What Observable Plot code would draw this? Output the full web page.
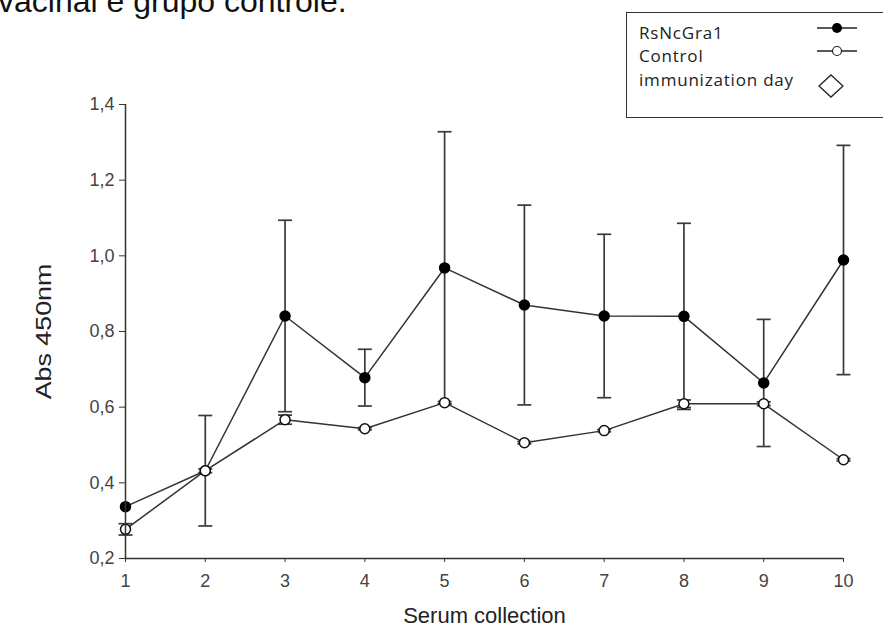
<!DOCTYPE html>
<html>
<head>
<meta charset="utf-8">
<script src="https://cdn.jsdelivr.net/npm/d3@7"></script>
<script src="https://cdn.jsdelivr.net/npm/@observablehq/plot@0.6"></script>
<style>
  html, body { margin: 0; padding: 0; background: #fff; }
  body { width: 883px; height: 630px; position: relative; overflow: hidden; }
  #chart { position: absolute; left: 0; top: 0; }
  #chart svg g[aria-label$="tick label"] { font-size: 18px !important; font-family: "Liberation Sans Narrow", "Liberation Sans", Arial, sans-serif !important; }
  #toptext { position: absolute; left: -2px; top: -15px; font-family: "Liberation Sans", Arial, sans-serif; font-size: 32px; line-height: 32px; color: #111; white-space: nowrap; }
  #legend { position: absolute; left: 626px; top: 12px; width: 280px; height: 104px; border: 1px solid #333; background: #fff; font-family: "Open Sans", "Noto Sans", sans-serif; font-size: 17px; letter-spacing: 0.8px; color: #222; }
  #legend .row { position: absolute; left: 12px; white-space: nowrap; line-height: 23px; }
  #legend svg { position: absolute; left: 0; top: 0; }
</style>
</head>
<body>
<div id="toptext">vacinal e grupo controle.</div>
<div id="chart"></div>
<div id="legend"></div>
<script>
// ---- data ----
const collection = [1, 2, 3, 4, 5, 6, 7, 8, 9, 10];
const rsMean   = [0.337, 0.432, 0.841, 0.678, 0.968, 0.870, 0.841, 0.840, 0.664, 0.989];
const rsErr    = [0.000, 0.146, 0.253, 0.075, 0.360, 0.264, 0.216, 0.246, 0.168, 0.303];
const ctrlMean = [0.277, 0.432, 0.567, 0.543, 0.612, 0.506, 0.538, 0.609, 0.609, 0.461];
const ctrlErr  = [0.015, 0.005, 0.012, 0.003, 0.003, 0.003, 0.003, 0.010, 0.005, 0.003];
const yTicks   = [0.2, 0.4, 0.6, 0.8, 1.0, 1.2, 1.4];
const seriesNames = ["RsNcGra1", "Control", "immunization day"];
const xTitle = "Serum collection";
const yTitle = "Abs 450nm";

const rs = collection.map((c, i) => ({x: c, y: rsMean[i], lo: rsMean[i] - rsErr[i], hi: rsMean[i] + rsErr[i]}));
const ctrl = collection.map((c, i) => ({x: c, y: ctrlMean[i], lo: ctrlMean[i] - ctrlErr[i], hi: ctrlMean[i] + ctrlErr[i]}));
const rsBars = rs.filter(d => d.hi > d.lo);

const capSymbol = {
  draw(ctx, size) {
    const w = Math.sqrt(size / Math.PI);
    ctx.moveTo(-w, 0);
    ctx.lineTo(w, 0);
  }
};

const errStroke = "#3a3a3a";
function errorBars(data) {
  return [
    Plot.ruleX(data, {x: "x", y1: "lo", y2: "hi", stroke: errStroke, strokeWidth: 1.7}),
    Plot.dot(data, {x: "x", y: "hi", symbol: capSymbol, r: 7, stroke: errStroke, strokeWidth: 1.7}),
    Plot.dot(data, {x: "x", y: "lo", symbol: capSymbol, r: 7, stroke: errStroke, strokeWidth: 1.7})
  ];
}

const chart = Plot.plot({
  width: 883,
  height: 630,
  marginLeft: 125,
  marginRight: 40,
  marginTop: 104,
  marginBottom: 72,
  x: {domain: [1, 10]},
  y: {domain: [0.2, 1.4]},
  style: {fontFamily: "'Liberation Sans', Arial, sans-serif", fontSize: "16px", color: "#333", background: "transparent"},
  marks: [
    ...errorBars(rsBars),
    ...errorBars(ctrl),
    Plot.line(rs, {x: "x", y: "y", stroke: "#333", strokeWidth: 1.5}),
    Plot.line(ctrl, {x: "x", y: "y", stroke: "#333", strokeWidth: 1.5}),
    Plot.dot(rs, {x: "x", y: "y", r: 5, fill: "#000", stroke: "#000"}),
    Plot.dot(ctrl, {x: "x", y: "y", r: 5, fill: "#fff", stroke: "#111", strokeWidth: 1.5}),
    Plot.ruleX([1], {y1: 0.2, y2: 1.4, stroke: "#333", strokeWidth: 1.5}),
    Plot.ruleY([0.2], {x1: 1, x2: 10, stroke: "#333", strokeWidth: 1.5}),
    Plot.axisY({ticks: yTicks, tickFormat: d => d.toFixed(1).replace(".", ","), tickSize: 6, tickPadding: 5, label: null, stroke: "#333", fill: "#444"}),
    Plot.axisX({ticks: collection, tickFormat: d => String(d), tickSize: 4, tickPadding: 12, label: null, stroke: "#333", fill: "#444"}),
    Plot.text([yTitle], {frameAnchor: "left", dx: -82, rotate: -90, textAnchor: "middle", lineAnchor: "middle", fontSize: 22, fill: "#222"}),
    Plot.text([xTitle], {frameAnchor: "bottom", dy: 57, textAnchor: "middle", lineAnchor: "middle", fontSize: 22, fill: "#222"})
  ]
});
document.getElementById("chart").appendChild(chart);
// the reference's rotated title is drawn a little taller along its length
chart.querySelectorAll("text").forEach(t => {
  if (t.textContent === yTitle) {
    t.setAttribute("transform", (t.getAttribute("transform") || "") + " scale(1.22,1)");
  }
});

// ---- legend ----
const legend = document.getElementById("legend");
const rowTops = [7.5, 31, 54.5];
seriesNames.forEach((name, i) => {
  const d = document.createElement("div");
  d.className = "row";
  d.textContent = name;
  d.style.top = rowTops[i] + "px";
  legend.appendChild(d);
});
const ns = "http://www.w3.org/2000/svg";
const svg = document.createElementNS(ns, "svg");
svg.setAttribute("width", "280");
svg.setAttribute("height", "104");
svg.innerHTML = `
  <line x1="190" x2="230" y1="15" y2="15" stroke="#222" stroke-width="1.5"/>
  <circle cx="210" cy="15" r="5" fill="#000"/>
  <line x1="190" x2="230" y1="38" y2="38" stroke="#222" stroke-width="1.5"/>
  <circle cx="210" cy="38" r="4.5" fill="#fff" stroke="#222" stroke-width="1.2"/>
  <polygon points="204,62 216,73 204,84 192,73" fill="#fff" stroke="#222" stroke-width="1.3"/>
`;
legend.appendChild(svg);
</script>
</body>
</html>
